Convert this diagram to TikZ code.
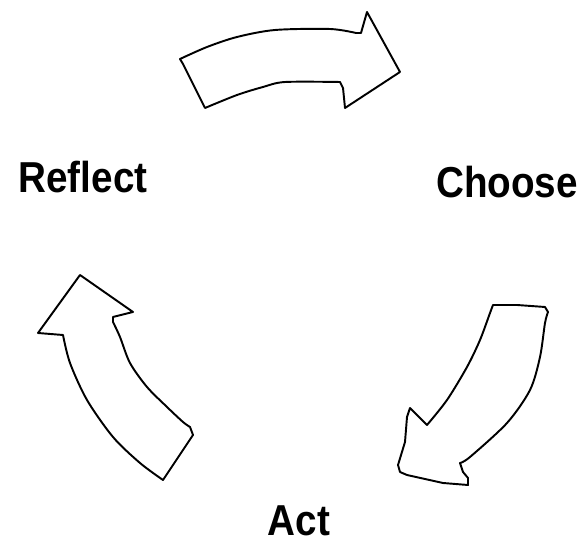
\documentclass[tikz,border=0pt]{standalone}
\usepackage{fontspec}
\setmainfont{Liberation Sans}
\begin{document}
\begin{tikzpicture}[x=0.02cm, y=-0.02cm,
		cycarrow/.style={draw, line width=1.1pt, line join=round},
		lbl/.style={font=\bfseries\fontsize{22pt}{26pt}\selectfont, anchor=base, inner sep=0pt, yscale=1.12, transform shape}]
		\useasboundingbox (0,0) rectangle (585,546);
		% top arrow (Reflect -> Choose)
		\draw [cycarrow] plot[smooth] coordinates {(180,59) (207,47) (237,37) (275,30) (330,29) (356,33)}
			-- (361,33) -- (367,12) -- (400,72) -- (345,108) -- (343,88) -- (340,82)
			-- plot[smooth] coordinates {(340,82) (285,82) (263,87) (237,95) (205,108)}
			-- (183,64) -- cycle;
		% right arrow (Choose -> Act)
		\draw [cycarrow] (493,305) -- (517,305) -- (545,307) -- (548,312)
			-- plot[smooth] coordinates {(548,312) (545,323) (540,357) (530,390) (507,423) (470,457) (460,463)}
			-- (463,472) -- (468,478) -- (468,485) -- (443,483) -- (407,475) -- (400,472) -- (398,465)
			-- (405,442) -- (407,417) -- (410,408) -- (427,425)
			-- plot[smooth] coordinates {(427,425) (447,400) (467,367) (480,340) (490,313) (493,305)}
			-- cycle;
		% left arrow (Act -> Reflect)
		\draw [cycarrow] (80,275) -- (133,312) -- (113,317) -- (113,322)
			-- plot[smooth] coordinates {(113,322) (120,337) (130,363) (147,387) (167,407) (183,422) (190,427)}
			-- (193,435) -- (163,480)
			-- plot[smooth] coordinates {(163,480) (140,463) (113,437) (87,400) (70,363) (63,335)}
			-- (38,333) -- cycle;
		% labels
		\node [lbl] (reflect) at (83,193) {Reflect};
		\node [lbl] (choose) at (507,198) {Choose};
		\node [lbl] (act) at (299,536) {Act};
	\end{tikzpicture}
\end{document}
